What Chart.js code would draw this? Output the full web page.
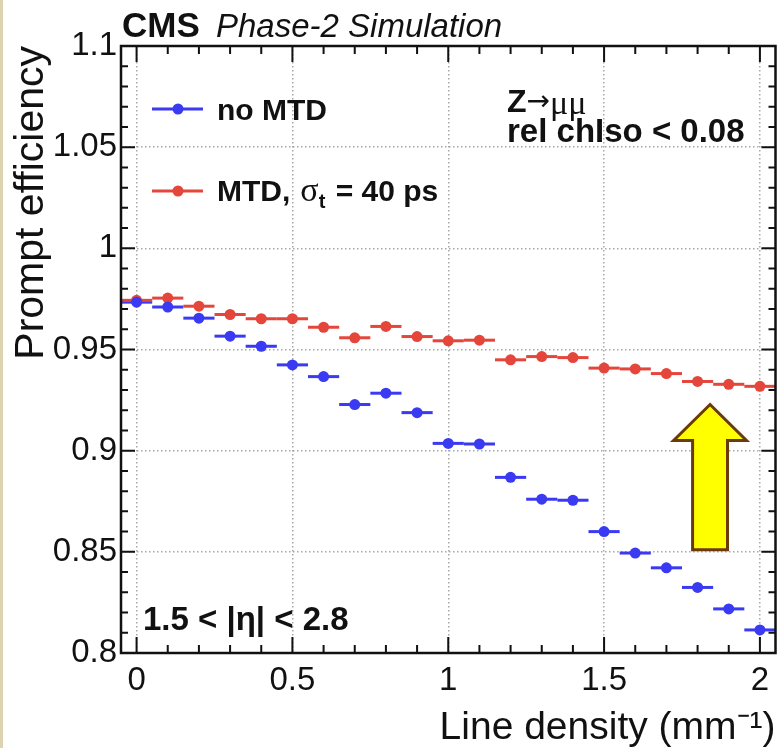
<!DOCTYPE html>
<html>
<head>
<meta charset="utf-8">
<script src="https://cdn.jsdelivr.net/npm/chart.js@4"></script>
<style>
  html, body { margin: 0; padding: 0; background: #fff; }
</style>
</head>
<body>
<canvas id="eff" width="781" height="748"></canvas>
<script>
// line density bins (mm^-1), bin half width 0.05
var densities = [0, 0.1, 0.2, 0.3, 0.4, 0.5, 0.6, 0.7, 0.8, 0.9, 1.0,
                 1.1, 1.2, 1.3, 1.4, 1.5, 1.6, 1.7, 1.8, 1.9, 2.0];
var binHalfWidth = 0.05;
var noMtd = [0.9734, 0.9710, 0.9655, 0.9566, 0.9516, 0.9424, 0.9366, 0.9228, 0.9284, 0.9188, 0.9036,
             0.9033, 0.8868, 0.8760, 0.8755, 0.8600, 0.8494, 0.8421, 0.8324, 0.8218, 0.8114];
var mtd40 = [0.9743, 0.9754, 0.9714, 0.9673, 0.9652, 0.9652, 0.9610, 0.9558, 0.9614, 0.9564, 0.9543,
             0.9546, 0.9449, 0.9465, 0.9460, 0.9408, 0.9404, 0.9381, 0.9342, 0.9328, 0.9318];
var xTicks = [0, 0.5, 1, 1.5, 2];
var xTickLabels = ['0', '0.5', '1', '1.5', '2'];
var yTicks = [0.8, 0.85, 0.9, 0.95, 1, 1.05, 1.1];
var yTickLabels = ['0.8', '0.85', '0.9', '0.95', '1', '1.05', '1.1'];

var BLUE = '#3a3af2';
var RED = '#e4463b';
var INK = '#111';
var FONT = '"Liberation Sans", Arial, Helvetica, sans-serif';

Chart.defaults.font.family = FONT;

function points(vals) {
  return densities.map(function (x, i) { return { x: x, y: vals[i] }; });
}

var cmsPlugin = {
  id: 'cmsStyle',
  beforeDraw: function (chart) {
    var ctx = chart.ctx;
    ctx.save();
    ctx.fillStyle = '#ddd3b0';
    ctx.fillRect(0, 0, 3, chart.height);
    ctx.restore();
  },
  beforeDatasetsDraw: function (chart) {
    var ctx = chart.ctx, xs = chart.scales.x, ys = chart.scales.y;
    ctx.save();
    ctx.lineWidth = 3;
    chart.data.datasets.forEach(function (ds) {
      ctx.strokeStyle = ds.backgroundColor;
      ds.data.forEach(function (p) {
        var y = ys.getPixelForValue(p.y);
        ctx.beginPath();
        ctx.moveTo(xs.getPixelForValue(p.x - binHalfWidth), y);
        ctx.lineTo(xs.getPixelForValue(p.x + binHalfWidth), y);
        ctx.stroke();
      });
    });
    ctx.restore();
  },
  afterDraw: function (chart) {
    var ctx = chart.ctx, a = chart.chartArea, xs = chart.scales.x, ys = chart.scales.y;
    ctx.save();

    // ROOT style frame with inward ticks
    ctx.strokeStyle = INK;
    ctx.lineWidth = 2;
    for (var i = 0; i <= 20; i++) {
      var px = xs.getPixelForValue(i / 10);
      var len = i % 5 === 0 ? 16 : 8;
      ctx.beginPath();
      ctx.moveTo(px, a.bottom); ctx.lineTo(px, a.bottom - len);
      ctx.moveTo(px, a.top); ctx.lineTo(px, a.top + len);
      ctx.stroke();
    }
    for (var j = 80; j <= 110; j++) {
      var py = ys.getPixelForValue(j / 100);
      var l2 = j % 5 === 0 ? 14 : 7;
      ctx.beginPath();
      ctx.moveTo(a.left, py); ctx.lineTo(a.left + l2, py);
      ctx.moveTo(a.right, py); ctx.lineTo(a.right - l2, py);
      ctx.stroke();
    }
    ctx.lineWidth = 2.5;
    ctx.strokeRect(a.left, a.top, a.right - a.left, a.bottom - a.top);

    // yellow arrow
    var ax = xs.getPixelForValue(1.84);
    var tip = ys.getPixelForValue(0.9228);
    var head = ys.getPixelForValue(0.905);
    var base = ys.getPixelForValue(0.851);
    var hw = xs.getPixelForValue(1.957) - ax;
    var sw = xs.getPixelForValue(1.896) - ax;
    ctx.beginPath();
    ctx.moveTo(ax, tip);
    ctx.lineTo(ax + hw, head);
    ctx.lineTo(ax + sw, head);
    ctx.lineTo(ax + sw, base);
    ctx.lineTo(ax - sw, base);
    ctx.lineTo(ax - sw, head);
    ctx.lineTo(ax - hw, head);
    ctx.closePath();
    ctx.fillStyle = '#ffff00';
    ctx.fill();
    ctx.strokeStyle = '#6b3a0a';
    ctx.lineWidth = 3;
    ctx.lineJoin = 'miter';
    ctx.stroke();

    // header
    ctx.fillStyle = INK;
    ctx.textBaseline = 'alphabetic';
    ctx.textAlign = 'left';
    ctx.font = 'bold 35px ' + FONT;
    ctx.fillText('CMS', 122, 37);
    ctx.font = 'italic 33px ' + FONT;
    ctx.fillText('Phase-2 Simulation', 216, 37);

    // legend
    function legendRow(color, y) {
      ctx.strokeStyle = color;
      ctx.lineWidth = 3;
      ctx.beginPath();
      ctx.moveTo(152, y); ctx.lineTo(203, y);
      ctx.stroke();
      ctx.fillStyle = color;
      ctx.beginPath();
      ctx.arc(178, y, 5.5, 0, Math.PI * 2);
      ctx.fill();
    }
    legendRow(BLUE, 109);
    legendRow(RED, 191);
    ctx.fillStyle = INK;
    ctx.font = 'bold 30px ' + FONT;
    ctx.fillText('no MTD', 217, 120);
    var x = 217;
    ctx.fillText('MTD,', x, 201);
    x += ctx.measureText('MTD,').width + 10;
    ctx.font = '34px "Liberation Serif", "DejaVu Serif", serif';
    ctx.fillText('σ', x, 201);
    x += ctx.measureText('σ').width;
    ctx.font = 'bold 20px ' + FONT;
    ctx.fillText('t', x, 208);
    x += ctx.measureText('t').width + 2;
    ctx.font = 'bold 30px ' + FONT;
    ctx.fillText(' = 40 ps', x, 201);

    // process and selection labels
    ctx.font = 'bold 32px ' + FONT;
    var zx = 507;
    ctx.fillText('Z', zx, 112);
    zx += ctx.measureText('Z').width;
    ctx.font = '28px "DejaVu Sans", sans-serif';
    ctx.fillText('→', zx, 110);
    zx += ctx.measureText('→').width;
    ctx.font = '34px "Liberation Serif", serif';
    ctx.fillText('μμ', zx, 114);
    ctx.font = 'bold 33px ' + FONT;
    ctx.fillText('rel chIso < 0.08', 507, 142);
    ctx.fillText('1.5 < |η| < 2.8', 143, 630);

    ctx.restore();
  }
};

new Chart(document.getElementById('eff'), {
  type: 'scatter',
  data: {
    datasets: [
      { label: 'no MTD', data: points(noMtd), backgroundColor: BLUE, borderColor: BLUE,
        pointRadius: 5.5, pointBorderWidth: 0, showLine: false },
      { label: 'MTD, σt = 40 ps', data: points(mtd40), backgroundColor: RED, borderColor: RED,
        pointRadius: 5.5, pointBorderWidth: 0, showLine: false }
    ]
  },
  options: {
    responsive: false,
    animation: false,
    layout: { padding: { top: 46, right: 4, left: 0, bottom: 0 } },
    plugins: { legend: { display: false }, tooltip: { enabled: false } },
    scales: {
      x: {
        type: 'linear', min: -0.05, max: 2.05,
        afterBuildTicks: function (s) { s.ticks = xTicks.map(function (v) { return { value: v }; }); },
        afterFit: function (s) { s.height = 95; },
        ticks: {
          callback: function (v) { return xTickLabels[xTicks.indexOf(v)]; },
          font: { size: 33 }, color: INK, padding: 8, maxRotation: 0, autoSkip: false
        },
        grid: { color: '#a8a8a8', lineWidth: 1.5, drawTicks: false },
        border: { display: false, dash: [1.5, 2.5] },
        title: { display: true, text: 'Line density (mm⁻¹)', align: 'end',
                 font: { size: 39, lineHeight: 1 }, color: INK, padding: 0 }
      },
      y: {
        min: 0.8, max: 1.1,
        afterBuildTicks: function (s) { s.ticks = yTicks.map(function (v) { return { value: v }; }); },
        afterFit: function (s) { s.width = 121; },
        ticks: {
          callback: function (v) { return yTickLabels[yTicks.indexOf(v)]; },
          font: { size: 33 }, color: INK, padding: 4
        },
        grid: { color: '#a8a8a8', lineWidth: 1.5, drawTicks: false },
        border: { display: false, dash: [1.5, 2.5] },
        title: { display: true, text: 'Prompt efficiency', align: 'end',
                 font: { size: 41, lineHeight: 1 }, color: INK, padding: { top: 11, bottom: 0 } }
      }
    }
  },
  plugins: [cmsPlugin]
});
</script>
</body>
</html>
